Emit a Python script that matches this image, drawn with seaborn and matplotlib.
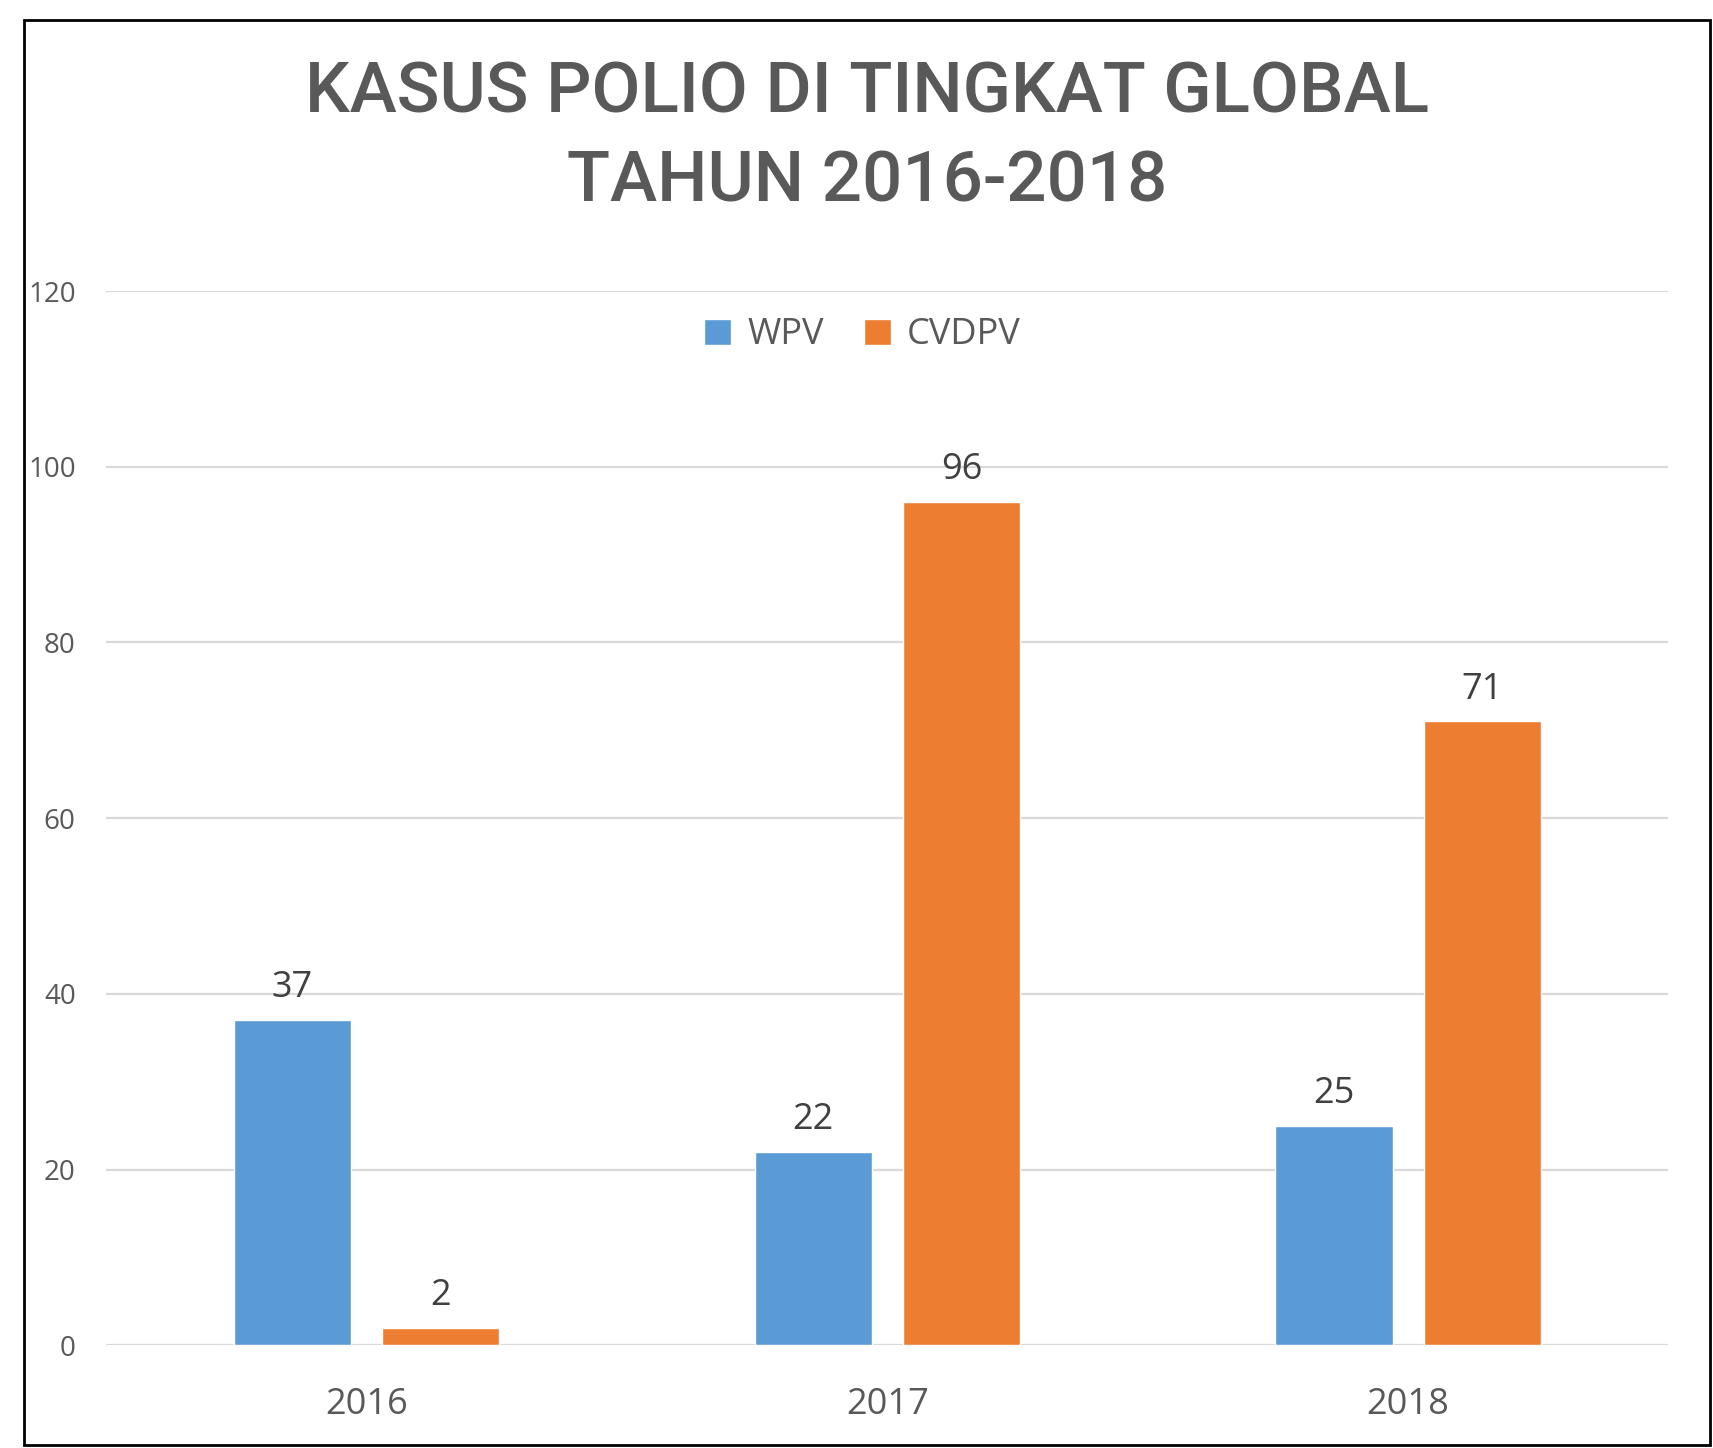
import matplotlib
matplotlib.use("Agg")
import matplotlib.pyplot as plt
import seaborn as sns
import pandas as pd
from matplotlib.patches import Rectangle

# data
years = ["2016", "2017", "2018"]
wpv = [37, 22, 25]
cvdpv = [2, 96, 71]
series_names = ["WPV", "CVDPV"]
y_ticks = [0, 20, 40, 60, 80, 100, 120]

df = pd.DataFrame({"Tahun": years, "WPV": wpv, "CVDPV": cvdpv})
df_plot = df.melt(id_vars="Tahun", var_name="Virus", value_name="Kasus")

sns.set_style("white")
plt.rcParams["font.family"] = ["Open Sans", "DejaVu Sans"]

fig = plt.figure(figsize=(17.13, 14.48), dpi=100)
ax = fig.add_axes([0.062, 0.071, 0.912, 0.728])

sns.barplot(data=df_plot, x="Tahun", y="Kasus", hue="Virus", hue_order=series_names,
            palette=["#5B9BD5", "#ED7D31"], width=0.57, gap=0.21,
            saturation=1, ax=ax, legend=True)

for cont in ax.containers:
    ax.bar_label(cont, padding=10, fontsize=26, color="#404040")

ax.set_ylim(0, 120)
ax.set_xlim(-0.5, 2.5)
ax.set_yticks(y_ticks)
ax.grid(axis="y", color="#d9d9d9", linewidth=1.6)
ax.set_axisbelow(True)
for s in ax.spines.values():
    s.set_visible(False)
ax.set_xlabel("")
ax.set_ylabel("")
ax.tick_params(axis="y", length=0, pad=22, labelsize=20, labelcolor="#595959")
ax.tick_params(axis="x", length=0, pad=30, labelsize=26, labelcolor="#595959")

ax.legend(loc="center", bbox_to_anchor=(0.484, 0.958), ncol=2, frameon=False,
          fontsize=26, labelcolor="#595959", handlelength=0.75, handleheight=0.75,
          handletextpad=0.45, columnspacing=1.1)

title_font = ["Roboto", "DejaVu Sans"]
fig.text(0.506, 0.936, "KASUS POLIO DI TINGKAT GLOBAL", ha="center", va="center",
         fontsize=51, fontweight="medium", color="#595959", family=title_font)
fig.text(0.506, 0.874, "TAHUN 2016-2018", ha="center", va="center",
         fontsize=51, fontweight="medium", color="#595959", family=title_font)

fig.patches.append(Rectangle((24 / 1713, 3 / 1448), 1686 / 1713, 1425 / 1448,
                             transform=fig.transFigure, fill=False,
                             edgecolor="black", linewidth=2))

fig.savefig("out.png", dpi=100)
